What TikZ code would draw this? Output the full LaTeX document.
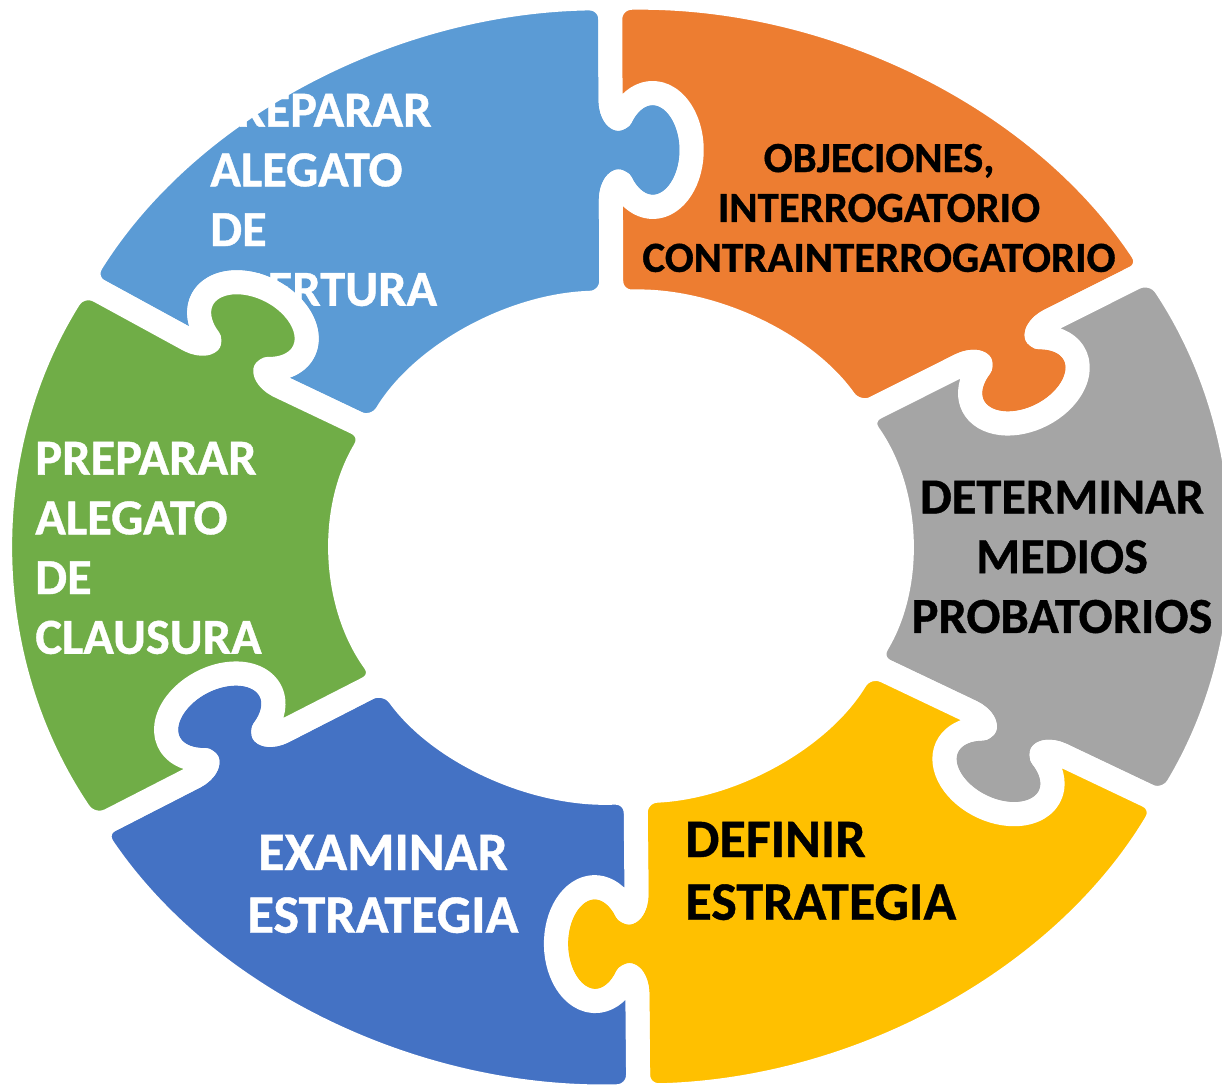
\documentclass[tikz,border=0pt]{standalone}
\usepackage{fontspec}
\setmainfont{Carlito}[BoldFeatures={FakeBold=0.8}]

\definecolor{pzlblue}{HTML}{5B9BD5}
\definecolor{pzlorange}{HTML}{ED7D31}
\definecolor{pzlgray}{HTML}{A5A5A5}
\definecolor{pzlyellow}{HTML}{FFC000}
\definecolor{pzldarkblue}{HTML}{4472C4}
\definecolor{pzlgreen}{HTML}{70AD47}

% knob on a seam: #1 = middle of the seam, #2 = direction outer -> inner
\newcommand{\knobout}[2]{{[sharp corners,shift={#1},rotate=#2] -- (-50,0) .. controls (-36,0) and (-28,8) .. (-32.7,10.05) arc[start angle=235,end angle=-55,x radius=57,y radius=39] .. controls (28,8) and (36,0) .. (50,0)}}
\newcommand{\knobin}[2]{{[sharp corners,shift={#1},rotate=#2] -- (50,0) .. controls (36,0) and (28,8) .. (32.7,10.05) arc[start angle=-55,end angle=235,x radius=57,y radius=39] .. controls (-28,8) and (-36,0) .. (-50,0)}}

\tikzset{
  piece/.style={fill=#1, draw=white, line width=0.48cm, line join=round, rounded corners=0.42cm},
  outer/.style={x radius=618, y radius=549},
  inner/.style={x radius=278, y radius=245},
  lbl/.style={font=\bfseries\fontsize{28.7}{34}\selectfont, inner sep=0pt},
  small lbl/.style={font=\bfseries\fontsize{24.4}{28.4}\selectfont, inner sep=0pt},
  big lbl/.style={font=\bfseries\fontsize{30.8}{35.7}\selectfont, inner sep=0pt}
}

\begin{document}
\begin{tikzpicture}[x=0.02cm, y=0.02cm]
\useasboundingbox (-621,-539) rectangle (601,547);

% Pieces
\draw[piece=pzlblue] (151:618 and 549) arc[start angle=151, end angle=91, outer]
  \knobout{(-10.25,396.9)}{-89.8} -- (92:278 and 245) arc[start angle=92, end angle=152, inner]
  \knobin{(-387.2,184.0)}{-27.1} -- cycle;
\draw[piece=pzlorange] (91:618 and 549) arc[start angle=91, end angle=30.5, outer]
  \knobout{(384.1,204.2)}{206.6} -- (32:278 and 245) arc[start angle=32, end angle=92, inner]
  \knobin{(-10.25,396.9)}{-89.8} -- cycle;
\draw[piece=pzlgray] (30.5:618 and 549) arc[start angle=30.5, end angle=-28, outer]
  \knobout{(395.55,-186.4)}{154.55} -- (-28:278 and 245) arc[start angle=-28, end angle=32, inner]
  \knobin{(384.1,204.2)}{206.6} -- cycle;
\draw[piece=pzlyellow] (-28:618 and 549) arc[start angle=-28, end angle=-88.4, outer]
  \knobout{(15.9,-396.75)}{90.5} -- (-87:278 and 245) arc[start angle=-87, end angle=-28, inner]
  \knobin{(395.55,-186.4)}{154.55} -- cycle;
\draw[piece=pzldarkblue] (-88.4:618 and 549) arc[start angle=-88.4, end angle=-149, outer]
  \knobout{(-382.1,-207.15)}{27.1} -- (-147.5:278 and 245) arc[start angle=-147.5, end angle=-87, inner]
  \knobin{(15.9,-396.75)}{90.5} -- cycle;

% Labels
\node[lbl, text=white, align=left, anchor=west] (apertura) at (-411,347) {PREPARAR\\ALEGATO\\DE\\APERTURA};
\node[small lbl, align=center] (objeciones) at (258,339) {OBJECIONES,\\INTERROGATORIO\\CONTRAINTERROGATORIO};
\node[lbl, align=center] (medios) at (441,-10) {DETERMINAR\\MEDIOS\\PROBATORIOS};
\node[big lbl, align=left, anchor=west] (definir) at (64,-324) {DEFINIR\\ESTRATEGIA};
\node[big lbl, text=white, align=center] (examinar) at (-238,-337) {EXAMINAR\\ESTRATEGIA};

% last piece lies over the first label
\draw[piece=pzlgreen] (211:618 and 549) arc[start angle=211, end angle=151, outer]
  \knobout{(-387.2,184.0)}{-27.1} -- (152:278 and 245) arc[start angle=152, end angle=212.5, inner]
  \knobin{(-382.1,-207.15)}{27.1} -- cycle;
\node[lbl, text=white, align=left, anchor=west] (clausura) at (-586,-1) {PREPARAR\\ALEGATO\\DE\\CLAUSURA};

\end{tikzpicture}
\end{document}
